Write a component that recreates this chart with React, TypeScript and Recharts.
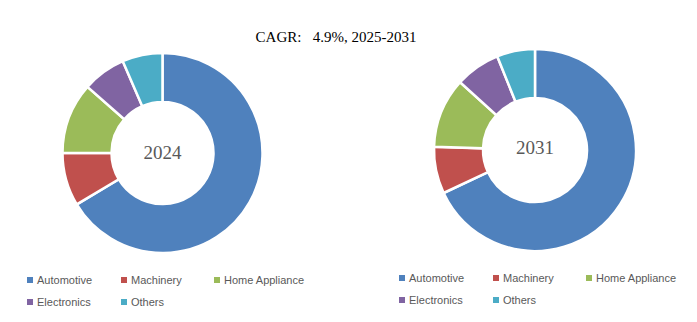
import { PieChart, Pie, Cell } from "recharts";

const segments = ["Automotive", "Machinery", "Home Appliance", "Electronics", "Others"];
const colors = ["#4F81BD", "#C0504D", "#9BBB59", "#8064A2", "#4BACC6"];
const share2024 = [66.4, 8.6, 11.5, 7.0, 6.5];
const share2031 = [68.0, 7.5, 11.2, 7.2, 6.1];
const title = "CAGR:   4.9%, 2025-2031";

const data2024 = segments.map((name, i) => ({ name, value: share2024[i] }));
const data2031 = segments.map((name, i) => ({ name, value: share2031[i] }));

const serif = "'Liberation Serif', 'Times New Roman', serif";
const legendText = { fontFamily: "'Liberation Sans', Arial, sans-serif", fontSize: 11, color: "#595959" };

function DonutLegend({ left, top }: { left: number; top: number }) {
  const cols = [0, 94, 187];
  return (
    <div style={{ position: "absolute", left, top }}>
      {segments.map((s, i) => (
        <div
          key={s}
          style={{
            position: "absolute",
            left: cols[i % 3],
            top: Math.floor(i / 3) * 22,
            display: "flex",
            alignItems: "center",
            whiteSpace: "nowrap",
            ...legendText,
          }}
        >
          <span style={{ width: 6, height: 6, background: colors[i], marginRight: 4, display: "inline-block" }} />
          {s}
        </div>
      ))}
    </div>
  );
}

function CenterText({ x, y, text }: { x: number; y: number; text: string }) {
  return (
    <div
      style={{
        position: "absolute",
        left: x - 40,
        width: 80,
        top: y - 12,
        lineHeight: "24px",
        textAlign: "center",
        fontFamily: serif,
        fontSize: 19,
        color: "#595959",
      }}
    >
      {text}
    </div>
  );
}

export default function App() {
  return (
    <div style={{ position: "absolute", left: 0, top: 0, width: 697, height: 322, background: "#fff" }}>
      <div
        style={{
          position: "absolute",
          left: 0,
          width: 672,
          top: 29,
          textAlign: "center",
          whiteSpace: "pre",
          fontFamily: serif,
          fontSize: 15,
          color: "#000",
        }}
      >
        {title}
      </div>
      <PieChart
        width={697}
        height={322}
        margin={{ top: 0, right: 0, bottom: 0, left: 0 }}
        style={{ position: "absolute", left: 0, top: 0 }}
      >
        <Pie
          data={data2024}
          dataKey="value"
          nameKey="name"
          cx={162.5}
          cy={153}
          innerRadius={51}
          outerRadius={100}
          startAngle={90}
          endAngle={-270}
          stroke="#fff"
          strokeWidth={2.5}
          isAnimationActive={false}
        >
          {data2024.map((d, i) => (
            <Cell key={d.name} fill={colors[i]} />
          ))}
        </Pie>
        <Pie
          data={data2031}
          dataKey="value"
          nameKey="name"
          cx={535}
          cy={150}
          innerRadius={52}
          outerRadius={101}
          startAngle={90}
          endAngle={-270}
          stroke="#fff"
          strokeWidth={2.5}
          isAnimationActive={false}
        >
          {data2031.map((d, i) => (
            <Cell key={d.name} fill={colors[i]} />
          ))}
        </Pie>
      </PieChart>
      <CenterText x={162.5} y={153} text="2024" />
      <CenterText x={535} y={148} text="2031" />
      <DonutLegend left={27} top={274} />
      <DonutLegend left={399} top={272} />
    </div>
  );
}
